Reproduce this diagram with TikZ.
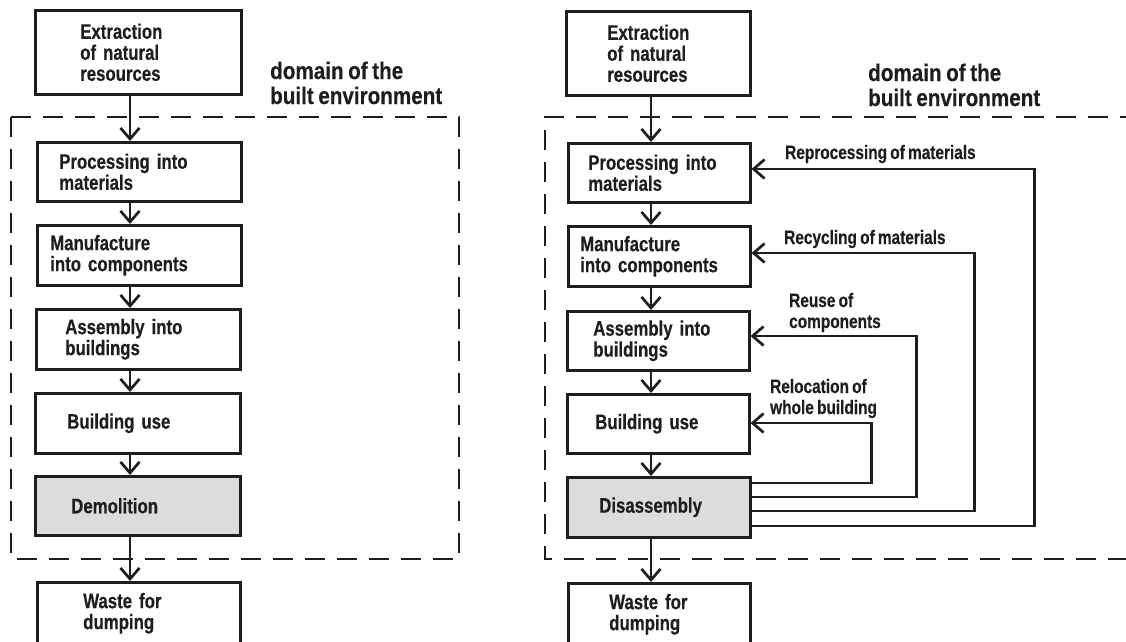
\documentclass[tikz,border=0pt]{standalone}
\usepackage{fontspec}
\usetikzlibrary{arrows.meta}
\newfontfamily\bx[FakeStretch=0.8, WordSpace=0.75, BoldFeatures={FakeBold=0.4}]{Liberation Sans}
\newfontfamily\bxl[FakeStretch=0.79, WordSpace=0.75, BoldFeatures={FakeBold=0.4}]{Liberation Sans}
\newfontfamily\bxd[FakeStretch=0.86, WordSpace=0.8, BoldFeatures={FakeBold=0.4}]{Liberation Sans}
\definecolor{ink}{HTML}{1E1E1E}
\definecolor{shade}{HTML}{DCDCDC}
\tikzset{
  mybox/.style={draw=ink, line width=2.5pt, align=left, text=ink,
    font=\bx\bfseries\fontsize{21}{21}\selectfont, inner ysep=0pt, anchor=north west},
  flow/.style={draw=ink, line width=2.7pt, -{Straight Barb[length=11pt,width=19pt]}},
  loopline/.style={draw=ink, line width=2.7pt, -{Straight Barb[length=11pt,width=19pt]}},
  domline/.style={draw=ink, line width=2pt, dash pattern=on 20pt off 12pt},
  lbl/.style={text=ink, font=\bxl\bfseries\fontsize{19.5}{21}\selectfont, align=left, inner sep=0pt, anchor=base west},
  dlbl/.style={text=ink, font=\bxd\bfseries\fontsize{24}{25}\selectfont, align=left, inner sep=0pt, anchor=base west}
}
\begin{document}
\begin{tikzpicture}[x=1pt,y=-1pt]
\useasboundingbox (0,0) rectangle (1126,641);
% dashed domains
\draw[domline] (11,117) rectangle (459,559);
\draw[domline] (1140,117) -- (545,117) -- (545,559) -- (1140,559);
% left column
\coordinate (axL) at (130,0);
\node[mybox, minimum width=206, minimum height=84, inner xsep=45, text width=116] (LE) at (34,9) {Extraction\\of natural\\resources};
\node[mybox, minimum width=204, minimum height=59, inner xsep=22, text width=160] (LP) at (36,141) {Processing into\\materials};
\node[mybox, minimum width=204, minimum height=60, inner xsep=13, text width=178] (LM) at (36,224) {Manufacture\\into components};
\node[mybox, minimum width=204, minimum height=60, inner xsep=29, text width=146] (LA) at (35,308) {Assembly into\\buildings};
\node[mybox, minimum width=205, minimum height=60, inner xsep=32, text width=141] (LU) at (34,392) {Building use};
\node[mybox, fill=shade, minimum width=205, minimum height=59, inner xsep=36, text width=133] (LD) at (34,475) {Demolition};
\node[mybox, minimum width=203, minimum height=62, inner xsep=46, text width=111] (LW) at (36,581) {Waste for\\dumping};
\draw[flow] (LE.south -| axL) -- (LP.north -| axL);
\draw[flow] (LP.south -| axL) -- (LM.north -| axL);
\draw[flow] (LM.south -| axL) -- (LA.north -| axL);
\draw[flow] (LA.south -| axL) -- (LU.north -| axL);
\draw[flow] (LU.south -| axL) -- (LD.north -| axL);
\draw[flow] (LD.south -| axL) -- (LW.north -| axL);
\node[dlbl] (LT) at (270,104) {domain of the\\built environment};
% right column
\coordinate (axR) at (651,0);
\node[mybox, minimum width=184, minimum height=84, inner xsep=41, text width=102] (RE) at (565,10) {Extraction\\of natural\\resources};
\node[mybox, minimum width=182, minimum height=59, inner xsep=20, text width=142] (RP) at (567,142) {Processing into\\materials};
\node[mybox, minimum width=182, minimum height=60, inner xsep=12, text width=158] (RM) at (567,225) {Manufacture\\into components};
\node[mybox, minimum width=182, minimum height=59, inner xsep=26, text width=130] (RA) at (566,310) {Assembly into\\buildings};
\node[mybox, minimum width=182, minimum height=59, inner xsep=28, text width=126] (RU) at (566,393) {Building use};
\node[mybox, fill=shade, minimum width=183, minimum height=60, inner xsep=32, text width=119] (RD) at (566,476) {Disassembly};
\node[mybox, minimum width=182, minimum height=62, inner xsep=41, text width=100] (RW) at (567,582) {Waste for\\dumping};
\draw[flow] (RE.south -| axR) -- (RP.north -| axR);
\draw[flow] (RP.south -| axR) -- (RM.north -| axR);
\draw[flow] (RM.south -| axR) -- (RA.north -| axR);
\draw[flow] (RA.south -| axR) -- (RU.north -| axR);
\draw[flow] (RU.south -| axR) -- (RD.north -| axR);
\draw[flow] (RD.south -| axR) -- (RW.north -| axR);
\node[dlbl] (RT) at (868,106) {domain of the\\built environment};
% feedback loops
\draw[loopline] ([yshift=-50pt]RD.north east) -- ++(283,0) |- ([yshift=-27pt]RP.north east);
\draw[loopline] ([yshift=-35pt]RD.north east) -- ++(223,0) |- ([yshift=-28pt]RM.north east);
\draw[loopline] ([yshift=-21pt]RD.north east) -- ++(165,0) |- ([yshift=-26pt]RA.north east);
\draw[loopline] ([yshift=-7pt]RD.north east) -- ++(120,0) |- ([yshift=-30pt]RU.north east);
\node[lbl] (L1) at (785,159) {Reprocessing of materials};
\node[lbl] (L2) at (784,244) {Recycling of materials};
\node[lbl] (L3) at (789,328) {Reuse of\\components};
\node[lbl] (L4) at (770,414) {Relocation of\\whole building};
\end{tikzpicture}
\end{document}
